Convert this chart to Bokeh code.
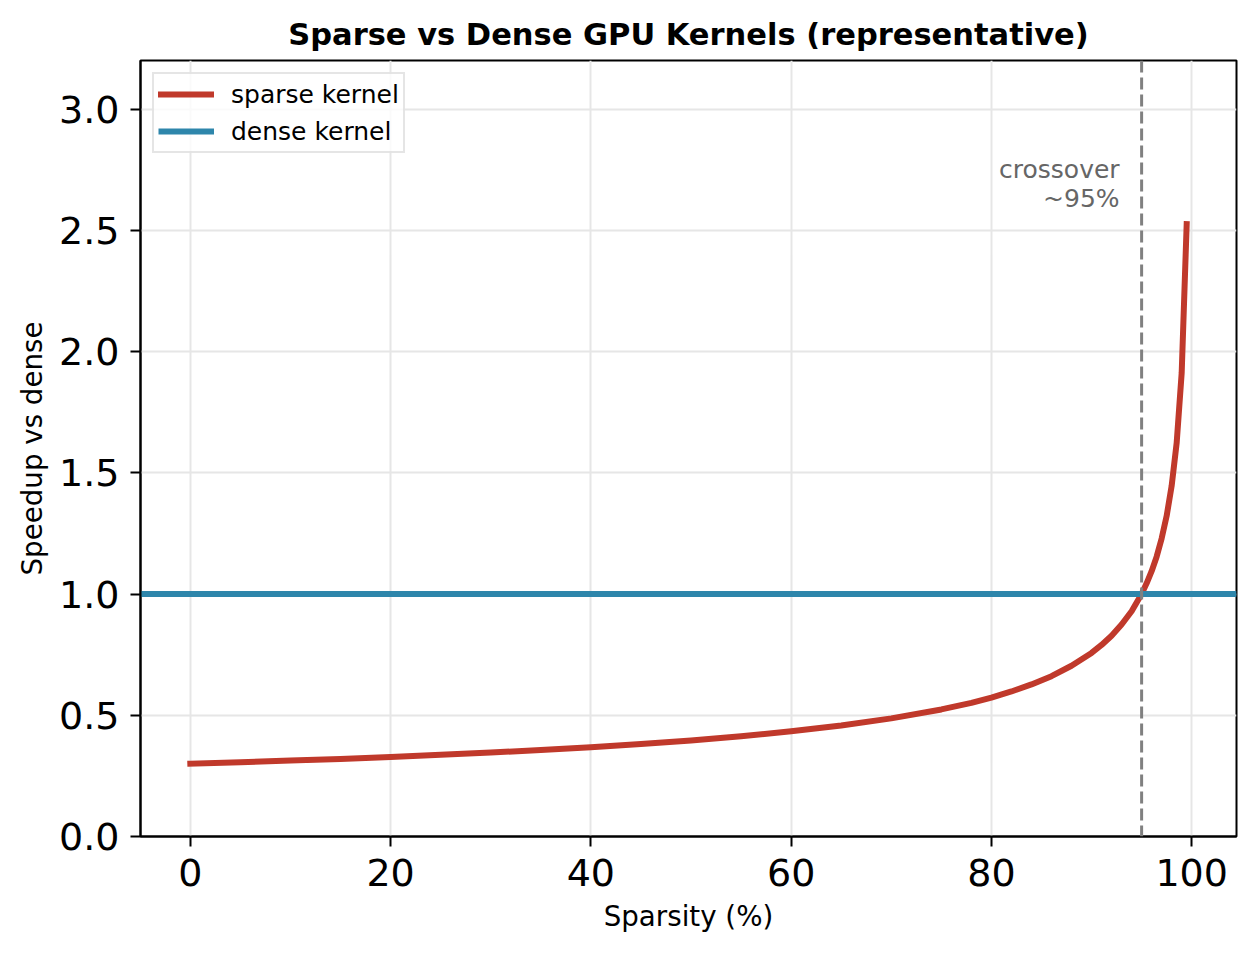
from bokeh.plotting import figure
from bokeh.models import Span, Legend, LegendItem, NumeralTickFormatter, Range1d
from bokeh.core.properties import value
from bokeh.embed import file_html
from bokeh.resources import INLINE

# ---- data ----
sparsity = [0, 5, 10, 15, 20, 25, 30, 35, 40, 45, 50, 55, 60, 65, 70, 75, 78, 80,
            82, 84, 86, 88, 90, 91, 92, 93, 94, 95, 95.5, 96, 96.5, 97, 97.5, 98,
            98.5, 99, 99.5]
sparse_speedup = [0.300, 0.306, 0.313, 0.320, 0.328, 0.337, 0.346, 0.357, 0.368,
                  0.381, 0.396, 0.413, 0.434, 0.458, 0.487, 0.524, 0.551, 0.573,
                  0.598, 0.627, 0.661, 0.704, 0.757, 0.790, 0.828, 0.874, 0.929,
                  1.000, 1.044, 1.094, 1.154, 1.229, 1.322, 1.446, 1.623, 1.911,
                  2.525]
dense_speedup = 1.0
crossover = 95
crossover_label = "crossover\n~95%"
annot_y = 2.57
x_ticks = [0, 20, 40, 60, 80, 100]
y_ticks = [0.0, 0.5, 1.0, 1.5, 2.0, 2.5, 3.0]
x_lo, x_hi = -4.975, 104.475
y_lo, y_hi = 0.0, 3.2

RED = "#c0392b"
BLUE = "#2e86ab"
FONT = "DejaVu Sans"

p = figure(width=1255, height=954, output_backend="svg", toolbar_location=None,
           x_range=Range1d(x_lo, x_hi), y_range=Range1d(y_lo, y_hi),
           min_border_left=140, min_border_right=19, min_border_top=60,
           min_border_bottom=118)

p.title.text = "Sparse vs Dense GPU Kernels (representative)"
p.title.text_font = FONT
p.title.text_font_size = "30.5px"
p.title.text_font_style = "bold"
p.title.align = "center"
p.title.text_color = "black"
p.title.standoff = 17

p.outline_line_color = "black"
p.outline_line_width = 2

p.grid.grid_line_color = "#e6e6e6"
p.grid.grid_line_width = 2

p.xaxis.ticker = x_ticks
p.yaxis.ticker = y_ticks
p.yaxis.formatter = NumeralTickFormatter(format="0.0")
for ax in (p.xaxis, p.yaxis):
    ax.axis_line_width = 2
    ax.axis_line_color = "black"
    ax.major_tick_line_width = 2
    ax.major_tick_line_color = "black"
    ax.major_tick_out = 10
    ax.major_tick_in = 0
    ax.minor_tick_line_color = None
    ax.major_label_text_font = FONT
    ax.major_label_text_font_size = "38px"
    ax.major_label_text_color = "black"
    ax.axis_label_text_font = FONT
    ax.axis_label_text_font_size = "27.7px"
    ax.axis_label_text_font_style = "normal"
    ax.axis_label_text_color = "black"

p.xaxis.axis_label = "Sparsity (%)"
p.yaxis.axis_label = "Speedup vs dense"
p.xaxis.major_label_standoff = 12
p.yaxis.major_label_standoff = 11
p.xaxis.axis_label_standoff = 11
p.yaxis.axis_label_standoff = 7

r_sparse = p.line(sparsity, sparse_speedup, line_color=RED, line_width=6,
                  line_join="round", line_cap="square")
r_dense = p.line([x_lo, x_hi], [dense_speedup, dense_speedup], line_color=BLUE,
                 line_width=6)

vline = Span(location=crossover, dimension="height", line_color="#808080",
             line_width=3, line_dash="12 5")
p.add_layout(vline)

p.text(x=[crossover], y=[annot_y], text=[crossover_label], text_align="right",
       text_baseline="bottom", x_offset=-22, text_font=value(FONT),
       text_font_size="25px", text_color="#666666", text_line_height=1.0)

legend = Legend(items=[LegendItem(label="sparse kernel", renderers=[r_sparse]),
                       LegendItem(label="dense kernel", renderers=[r_dense])],
                location="top_left")
legend.margin = 12
legend.padding = 4
legend.spacing = 5
legend.glyph_width = 56
legend.glyph_height = 32
legend.label_height = 32
legend.label_standoff = 17
legend.label_text_font = FONT
legend.label_text_font_size = "25px"
legend.label_text_color = "black"
legend.border_line_color = "#cccccc"
legend.border_line_width = 2
legend.background_fill_color = "white"
legend.background_fill_alpha = 0.8
p.add_layout(legend)

open("out.html", "w").write(file_html(p, INLINE))
